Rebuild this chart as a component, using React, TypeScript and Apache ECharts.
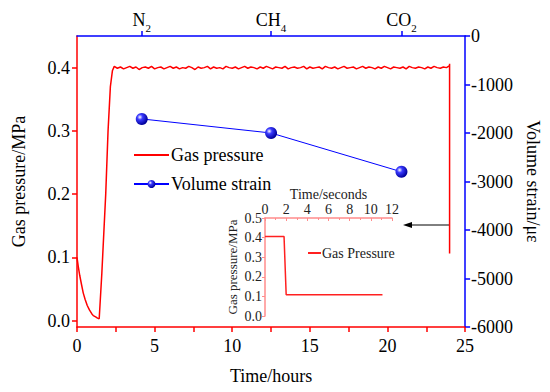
import React, { useEffect, useRef } from "react";
import * as echarts from "echarts";

// Main gas pressure curve (hours, MPa)
const decayT = [0, 0.08, 0.18, 0.3, 0.4, 0.52, 0.66, 0.8, 0.95, 1.05, 1.2, 1.32, 1.43];
const decayP = [0.1, 0.086, 0.071, 0.056, 0.044, 0.034, 0.024, 0.017, 0.011, 0.008, 0.006, 0.004, 0.003];
const riseT = [1.6, 1.85, 2.0, 2.15, 2.28];
const riseP = [0.075, 0.2, 0.3, 0.37, 0.395];
const plateauStart = 2.4;
const plateauStep = 0.2;
const plateauP = [
  0.402, 0.399, 0.401, 0.398, 0.4, 0.402, 0.399, 0.401, 0.397, 0.4, 0.401, 0.399, 0.402, 0.398, 0.4, 0.401, 0.398, 0.4, 0.402, 0.399,
  0.401, 0.398, 0.4, 0.399, 0.402, 0.4, 0.397, 0.401, 0.399, 0.4, 0.402, 0.398, 0.401, 0.399, 0.4, 0.398, 0.402, 0.4, 0.399, 0.401,
  0.398, 0.4, 0.402, 0.399, 0.401, 0.4, 0.398, 0.401, 0.399, 0.402, 0.4, 0.398, 0.401, 0.4, 0.399, 0.402, 0.398, 0.4, 0.401, 0.399,
  0.4, 0.402, 0.398, 0.401, 0.399, 0.4, 0.401, 0.398, 0.402, 0.4, 0.399, 0.401, 0.398, 0.4, 0.402, 0.399, 0.4, 0.401, 0.398, 0.4,
  0.402, 0.399, 0.401, 0.4, 0.398, 0.401, 0.399, 0.402, 0.4, 0.398, 0.401, 0.4, 0.399, 0.401, 0.398, 0.402, 0.4, 0.399, 0.401, 0.4,
  0.398, 0.401, 0.399, 0.402, 0.4, 0.399, 0.401, 0.4, 0.403,
];
const dropT = [24.0, 24.0];
const dropP = [0.406, 0.106];

// Volume strain (top axis gases)
const gases = ["N2", "CH4", "CO2"];
const gasTimes = [4.17, 12.5, 20.9];
const strain = [-1710, -2000, -2800];

// Inset: seconds vs MPa
const insetT = [0, 1.8, 2.0, 11.1];
const insetP = [0.405, 0.405, 0.108, 0.108];

const leftTicks = [0, 0.1, 0.2, 0.3, 0.4];

const FONT = "'Liberation Serif', 'Times New Roman', serif";

function buildPressure() {
  const pts: number[][] = [];
  decayT.forEach((t, i) => pts.push([t, decayP[i]]));
  riseT.forEach((t, i) => pts.push([t, riseP[i]]));
  plateauP.forEach((p, i) => pts.push([+(plateauStart + i * plateauStep).toFixed(2), p]));
  dropT.forEach((t, i) => pts.push([t, dropP[i]]));
  return pts;
}

const gasLabel: Record<string, string> = {
  N2: "{n|N}{s|2}",
  CH4: "{n|CH}{s|4}",
  CO2: "{n|CO}{s|2}",
};

export default function App() {
  const ref = useRef<HTMLDivElement>(null);
  useEffect(() => {
    const chart = echarts.init(ref.current!, null, { renderer: "svg" });
    const red = "#ff0000";
    const blue = "#0000ff";
    const pink = "#ff8c8c";
    const sphere = new echarts.graphic.RadialGradient(0.35, 0.35, 0.65, [
      { offset: 0, color: "#ffffff" },
      { offset: 0.35, color: "#3a3aff" },
      { offset: 1, color: "#00009a" },
    ]);
    const option: any = {
      animation: false,
      textStyle: { fontFamily: FONT },
      grid: [
        { left: 77, top: 36, width: 390, height: 291 },
        { left: 265, top: 218, width: 127, height: 98 },
      ],
      legend: [
        {
          data: [{ name: "Gas pressure", itemStyle: { opacity: 0 } }, { name: "Volume strain" }],
          orient: "vertical",
          left: 128,
          top: 141,
          itemWidth: 35,
          itemHeight: 10,
          itemGap: 11,
          textStyle: { fontFamily: FONT, fontSize: 18, color: "#000", padding: [0, 0, 0, -3] },
        },
        {
          data: [{ name: "Gas Pressure", itemStyle: { opacity: 0 } }],
          left: 302,
          top: 241,
          itemWidth: 13,
          itemHeight: 10,
          itemGap: 2,
          textStyle: { fontFamily: FONT, fontSize: 14, color: "#222", padding: [0, 0, 0, -4] },
        },
      ],
      xAxis: [
        {
          gridIndex: 0,
          type: "value",
          position: "bottom",
          min: 0,
          max: 25,
          interval: 5,
          name: "Time/hours",
          nameLocation: "middle",
          nameGap: 40,
          nameTextStyle: { fontFamily: FONT, fontSize: 18, color: "#000" },
          axisLine: { onZero: false, lineStyle: { color: red, width: 1.5 } },
          axisTick: { inside: false, length: 5, lineStyle: { color: red, width: 1.5 } },
          minorTick: { show: true, splitNumber: 2, length: 5, lineStyle: { color: red, width: 1.5 } },
          axisLabel: { fontFamily: FONT, fontSize: 18, color: "#000", margin: 10 },
          splitLine: { show: false },
        },
        {
          gridIndex: 0,
          type: "value",
          position: "top",
          min: 0,
          max: 25,
          axisLine: { onZero: false, lineStyle: { color: blue, width: 1.5 } },
          axisTick: { customValues: gasTimes, length: 5, lineStyle: { color: blue, width: 1.5 } },
          axisLabel: {
            customValues: gasTimes,
            margin: 7,
            formatter: (v: number) => {
              const i = gasTimes.findIndex((t) => Math.abs(t - v) < 1e-6);
              return i >= 0 ? gasLabel[gases[i]] : "";
            },
            rich: {
              n: { fontFamily: FONT, fontSize: 18, color: "#000", lineHeight: 20, verticalAlign: "bottom" },
              s: { fontFamily: FONT, fontSize: 11, color: "#000", lineHeight: 20, verticalAlign: "bottom", padding: [0, 0, -4, 0] },
            },
          },
          splitLine: { show: false },
        },
        {
          gridIndex: 1,
          type: "value",
          position: "top",
          min: 0,
          max: 12,
          interval: 2,
          name: "Time/seconds",
          nameLocation: "middle",
          nameGap: 13,
          nameTextStyle: { fontFamily: FONT, fontSize: 14, color: "#222" },
          axisLine: { onZero: false, lineStyle: { color: pink, width: 1.5 } },
          axisTick: { inside: true, length: 3, lineStyle: { color: pink } },
          minorTick: { show: true, splitNumber: 2, length: 2, lineStyle: { color: pink } },
          axisLabel: { fontFamily: FONT, fontSize: 14, color: "#222", margin: 2 },
          splitLine: { show: false },
        },
      ],
      yAxis: [
        {
          gridIndex: 0,
          type: "value",
          position: "left",
          min: -0.01,
          max: 0.45,
          name: "Gas pressure/MPa",
          nameLocation: "middle",
          nameGap: 49,
          nameTextStyle: { fontFamily: FONT, fontSize: 18, color: "#000" },
          axisLine: { show: true, onZero: false, lineStyle: { color: red, width: 1.5 } },
          axisTick: { show: true, customValues: leftTicks, length: 5, lineStyle: { color: red, width: 1.5 } },
          axisLabel: {
            customValues: leftTicks,
            fontFamily: FONT,
            fontSize: 18,
            color: "#000",
            margin: 7,
            formatter: (v: number) => v.toFixed(1),
          },
          splitLine: { show: false },
        },
        {
          gridIndex: 0,
          type: "value",
          position: "right",
          min: -6000,
          max: 0,
          interval: 1000,
          name: "Volume strain/με",
          nameLocation: "middle",
          nameRotate: -90,
          nameGap: 54,
          nameTextStyle: { fontFamily: FONT, fontSize: 18, color: "#000" },
          axisLine: { show: true, onZero: false, lineStyle: { color: blue, width: 1.5 } },
          axisTick: { show: true, length: 5, lineStyle: { color: blue, width: 1.5 } },
          axisLabel: { fontFamily: FONT, fontSize: 18, color: "#000", margin: 6, formatter: (v: number) => String(v) },
          splitLine: { show: false },
        },
        {
          gridIndex: 1,
          type: "value",
          position: "left",
          min: 0,
          max: 0.5,
          interval: 0.1,
          name: "Gas pressure/MPa",
          nameLocation: "middle",
          nameGap: 26,
          nameTextStyle: { fontFamily: FONT, fontSize: 13, color: "#222" },
          axisLine: { show: true, onZero: false, lineStyle: { color: pink, width: 1.5 } },
          axisTick: { show: true, length: 3, lineStyle: { color: pink } },
          axisLabel: { fontFamily: FONT, fontSize: 14, color: "#222", margin: 3, formatter: (v: number) => v.toFixed(1) },
          splitLine: { show: false },
        },
      ],
      series: [
        {
          name: "Gas pressure",
          type: "line",
          xAxisIndex: 0,
          yAxisIndex: 0,
          data: buildPressure(),
          symbol: "none",
          lineStyle: { color: red, width: 1.5 },
          itemStyle: { color: red },
          z: 3,
        },
        {
          name: "Volume strain",
          type: "line",
          xAxisIndex: 1,
          yAxisIndex: 1,
          data: gasTimes.map((t, i) => [t, strain[i]]),
          symbol: "circle",
          symbolSize: 12,
          lineStyle: { color: blue, width: 1 },
          itemStyle: { color: sphere },
          z: 4,
        },
        {
          name: "Gas Pressure",
          type: "line",
          xAxisIndex: 2,
          yAxisIndex: 2,
          data: insetT.map((t, i) => [t, insetP[i]]),
          symbol: "none",
          lineStyle: { color: "#ff2020", width: 1.5 },
          itemStyle: { color: "#ff2020" },
        },
      ],
      graphic: [
        {
          type: "line",
          shape: { x1: 449, y1: 225, x2: 410, y2: 225 },
          style: { stroke: "#000", lineWidth: 1 },
        },
        {
          type: "polygon",
          shape: { points: [[403, 225], [412, 222], [412, 228]] },
          style: { fill: "#000" },
        },
      ],
    };
    chart.setOption(option);
    return () => chart.dispose();
  }, []);
  return <div ref={ref} style={{ position: "absolute", left: 0, top: 0, width: 550, height: 392 }} />;
}
